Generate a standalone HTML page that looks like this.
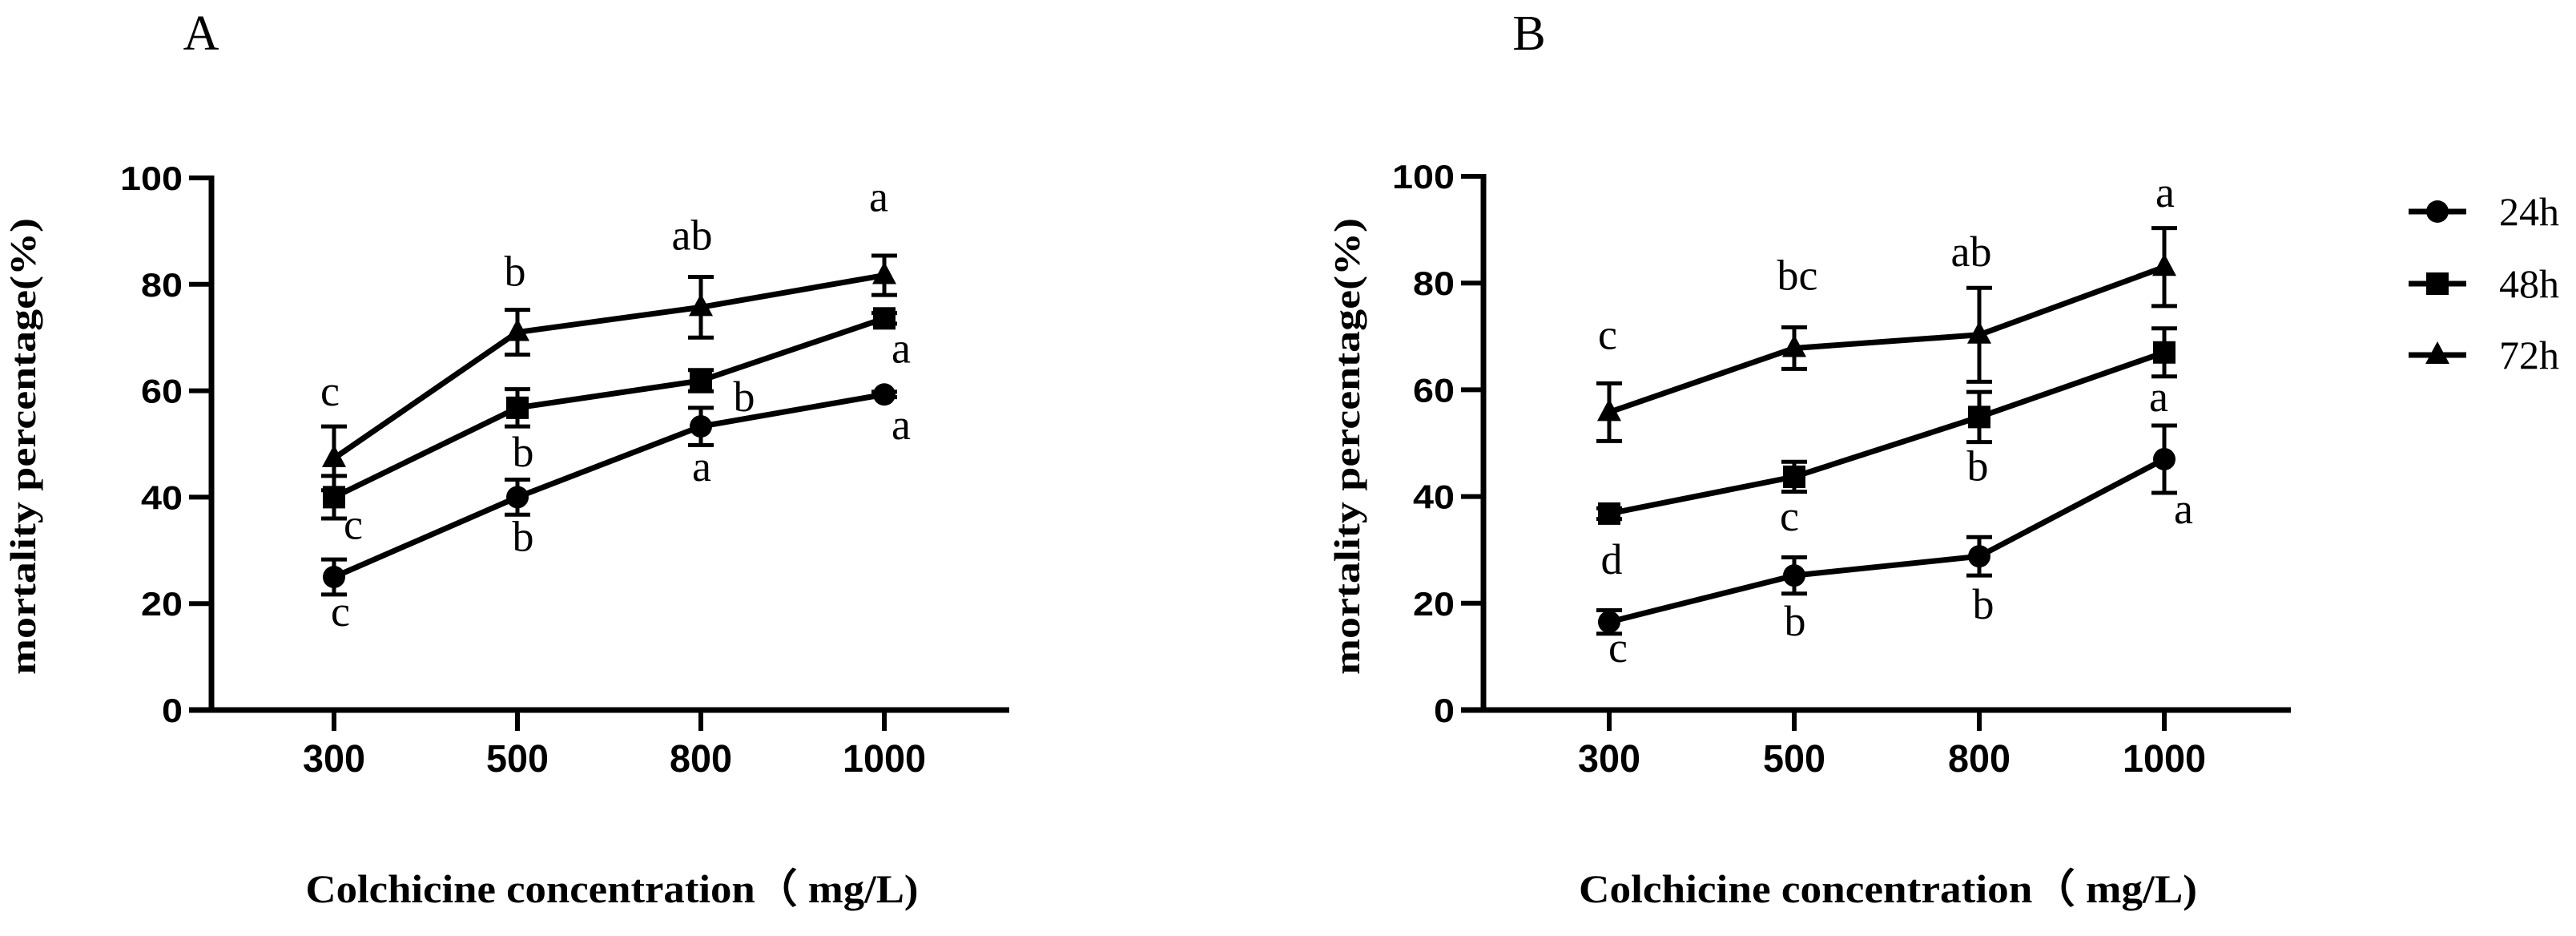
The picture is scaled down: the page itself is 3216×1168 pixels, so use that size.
<!DOCTYPE html>
<html><head><meta charset="utf-8"><style>
html,body{margin:0;padding:0;background:#fff;}
svg{display:block;}
</style></head>
<body>
<svg id="chart" width="3216" height="1168" viewBox="0 0 3216 1168" xmlns="http://www.w3.org/2000/svg"></svg>
<script>
const categories = ["300","500","800","1000"];
const yTicks = [0,20,40,60,80,100];
const seriesNames = ["24h","48h","72h"];
const markerTypes = ["circle","square","triangle"];
// Panel A
const a24 = [25, 40, 53.3, 59.3];
const a24err = [3.3, 3.3, 3.5, 0.5];
const a48 = [40, 56.8, 61.9, 73.6];
const a48err = [4, 3.5, 2, 1];
const a72 = [47.3, 71, 75.7, 81.7];
const a72err = [6, 4.2, 5.7, 3.7];
// Panel B
const b24 = [16.5, 25.2, 28.8, 47];
const b24err = [2.2, 3.4, 3.6, 6.3];
const b48 = [36.8, 43.7, 54.9, 67];
const b48err = [1, 2.8, 4.7, 4.5];
const b72 = [55.8, 67.8, 70.3, 83];
const b72err = [5.4, 3.9, 8.8, 7.3];
// significance letters
const aLetters = [["c","b","a","a"],["c","b","b","a"],["c","b","ab","a"]];
const bLetters = [["c","b","b","a"],["d","c","b","a"],["c","bc","ab","a"]];

const NS = "http://www.w3.org/2000/svg";
const svg = document.getElementById('chart');
function el(tag, attrs, parent){
  const e = document.createElementNS(NS, tag);
  for (const k in attrs) e.setAttribute(k, attrs[k]);
  (parent||svg).appendChild(e);
  return e;
}
const SANS = '"Liberation Sans", Arial, sans-serif';
const SERIF = '"Liberation Serif", "Times New Roman", serif';

function panel(cfg){
  const g = el('g', {});
  
  
  const yS = v => cfg.y0 - (v/100)*(cfg.y0 - cfg.y100);
  const xS = i => cfg.cx0 + i*cfg.step;
  const ya = el('line', {x1:cfg.ax, y1:cfg.y100-3, x2:cfg.ax, y2:cfg.y0+3, stroke:'#000','stroke-width':7}, g);
  
  
  const xa = el('line', {x1:cfg.ax-28, y1:cfg.y0, x2:cfg.xEnd, y2:cfg.y0, stroke:'#000','stroke-width':7}, g);
  
  
  yTicks.forEach(t => {
    const y = yS(t);
    const tk = el('line', {x1:cfg.ax-28, y1:y, x2:cfg.ax, y2:y, stroke:'#000','stroke-width':6}, g);
    
    
    const s = String(t);
    const tx = el('text', {x:cfg.ax-36, y:y+15, 'text-anchor':'end', 'font-family':SANS, 'font-weight':'bold', 'font-size':42, textLength: s.length*26, lengthAdjust:'spacingAndGlyphs'}, g);
    tx.textContent = s;
    
    
  });
  categories.forEach((c,i) => {
    const x = xS(i);
    const tk = el('line', {x1:x, y1:cfg.y0, x2:x, y2:cfg.y0+26, stroke:'#000','stroke-width':6}, g);
    
    
    const tx = el('text', {x:x, y:963, 'text-anchor':'middle', 'font-family':SANS, 'font-weight':'bold', 'font-size':48, textLength: c.length*26, lengthAdjust:'spacingAndGlyphs'}, g);
    tx.textContent = c;
    
    
  });
  const yt = el('text', {x:0, y:0, transform:`translate(${cfg.ytX},557) rotate(-90)`, 'text-anchor':'middle', 'font-family':SERIF, 'font-weight':'bold', 'font-size':46, textLength:570, lengthAdjust:'spacingAndGlyphs'}, g);
  yt.textContent = 'mortality percentage(%)';
  
  
  const xt = el('text', {x:cfg.xtX, y:1126, 'text-anchor':'middle', 'font-family':SERIF, 'font-weight':'bold', 'font-size':50, textLength:cfg.xtW, lengthAdjust:'spacingAndGlyphs'}, g);
  xt.textContent = 'Colchicine concentration\uFF08 mg/L)';
  
  
  const pl = el('text', {x:cfg.labelX, y:62, 'text-anchor':'middle', 'font-family':SERIF, 'font-size':62}, g);
  pl.textContent = cfg.label;
  
  
  cfg.series.forEach((vals, si) => {
    const errs = cfg.errs[si];
    const sg = el('g', {}, g);
    
    
    const pts = vals.map((v,i) => xS(i)+','+yS(v)).join(' ');
    const line = el('polyline', {points:pts, fill:'none', stroke:'#000','stroke-width':7,'stroke-linejoin':'round'}, sg);
    
    
    vals.forEach((v,i) => {
      const x = xS(i), y = yS(v), e = errs[i];
      const yt1 = yS(v+e), yb = yS(v-e);
      const eb = el('path', {d:`M${x},${yt1}V${yb}M${x-16},${yt1}H${x+16}M${x-16},${yb}H${x+16}`, stroke:'#000','stroke-width':5, fill:'none'}, sg);
      
      
      drawMarker(sg, markerTypes[si], x, y);
      const lt = el('text', {x:x + cfg.letterDx[si][i], y:y + cfg.letterDy[si][i], 'text-anchor':'middle', 'dominant-baseline':'central', 'font-family':SERIF, 'font-size':54}, sg);
      lt.textContent = cfg.letters[si][i];
      
      
    });
  });
}
function drawMarker(parent, type, x, y){
  let m;
  if (type === 'circle') m = el('circle', {cx:x, cy:y, r:14, fill:'#000'}, parent);
  else if (type === 'square') m = el('rect', {x:x-14, y:y-14, width:28, height:28, fill:'#000'}, parent);
  else m = el('path', {d:`M${x},${y-17}L${x+15},${y+11}L${x-15},${y+11}Z`, fill:'#000'}, parent);
  
  
  return m;
}

panel({
  name:'panel-a', label:'A', labelX:251, ax:264, xEnd:1260, y0:886, y100:222,
  cx0:417, step:229, ytX:44, xtX:764, xtW:765,
  series:[a24,a48,a72], errs:[a24err,a48err,a72err], letters:aLetters,
  letterDx:[[8,7,1,21],[24,7,54,21],[-5,-3,-11,-7]],
  letterDy:[[43,49,50,38],[34,55,20,37],[-84,-76,-90,-98]]
});
panel({
  name:'panel-b', label:'B', labelX:1909, ax:1852, xEnd:2860, y0:886, y100:220,
  cx0:2009, step:231, ytX:1697, xtX:2357, xtW:772,
  series:[b24,b48,b72], errs:[b24err,b48err,b72err], letters:bLetters,
  letterDx:[[11,1,5,24],[3,-6,-2,-7],[-2,4,-10,1]],
  letterDy:[[32,57,60,62],[57,49,61,55],[-97,-91,-104,-93]]
});

const legend = el('g', {});


const legendY = [264, 354, 443];
seriesNames.forEach((n,i) => {
  const y = legendY[i];
  const ln = el('line', {x1:3007, y1:y, x2:3079, y2:y, stroke:'#000','stroke-width':7}, legend);
  
  
  drawMarker(legend, markerTypes[i], 3043, y);
  const t = el('text', {x:3120, y:y+17, 'font-family':SERIF, 'font-size':50}, legend);
  t.textContent = n;
  
  
});
</script>
</body></html>
